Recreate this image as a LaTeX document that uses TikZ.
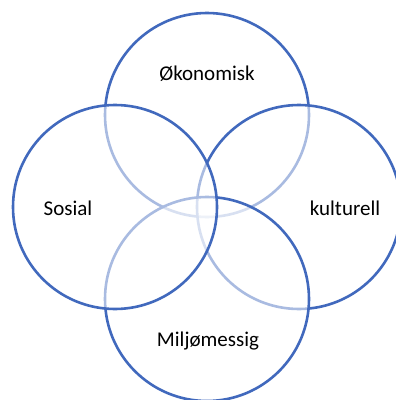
\documentclass[tikz,border=0pt]{standalone}
\usepackage{fontspec}
\setmainfont{Carlito}
\definecolor{ringblue}{HTML}{4169BD}

\tikzset{
	ring/.style={circle, draw=ringblue, line width=2.6pt, fill=white, fill opacity=0.55, minimum size=204pt, inner sep=0pt},
	tag/.style={font=\fontsize{21}{25}\selectfont, text=black, inner sep=0pt}
}

\begin{document}
\begin{tikzpicture}[x=1pt,y=1pt]
	\useasboundingbox (0,0) rectangle (396,-400);
	\clip (0,0) rectangle (396,-400);
	% circles, back to front
	\node[ring] (oko) at (207,-115) {};
	\node[ring] (kul) at (299,-207) {};
	\node[ring] (mil) at (207,-299) {};
	\node[ring] (sos) at (115,-207) {};
	% labels
	\node[tag] (okotxt) at (207,-74) {Økonomisk};
	\node[tag] (sostxt) at (68,-208) {Sosial};
	\node[tag] (kultxt) at (345,-208) {kulturell};
	\node[tag] (miltxt) at (208,-341) {Miljømessig};
\end{tikzpicture}
\end{document}
